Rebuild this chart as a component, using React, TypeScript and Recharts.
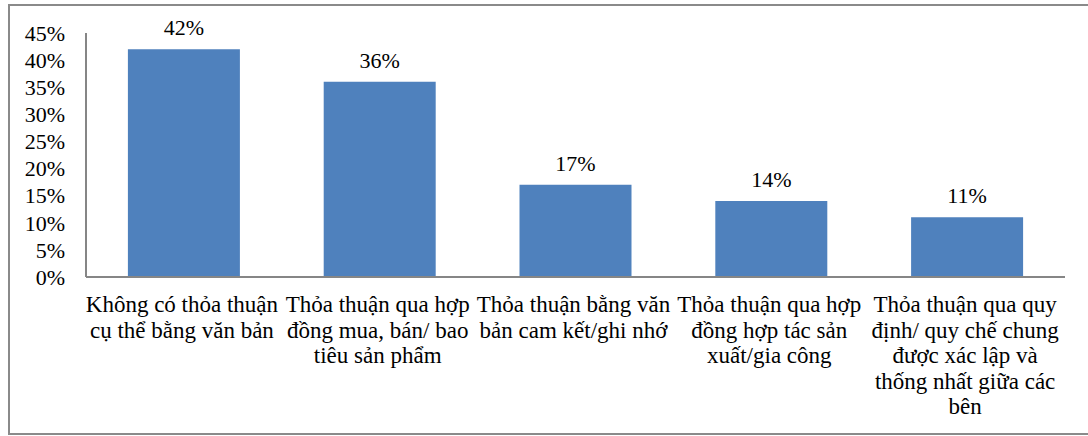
import React from 'react';
import { BarChart, Bar, XAxis, YAxis, LabelList } from 'recharts';

// category labels, already broken into lines like the original figure
const categoryLines: string[][] = [
  ['Không có thỏa thuận', 'cụ thể bằng văn bản'],
  ['Thỏa thuận qua hợp', 'đồng mua, bán/ bao', 'tiêu sản phẩm'],
  ['Thỏa thuận bằng văn', 'bản cam kết/ghi nhớ'],
  ['Thỏa thuận qua hợp', 'đồng hợp tác sản', 'xuất/gia công'],
  ['Thỏa thuận qua quy', 'định/ quy chế chung', 'được xác lập và', 'thống nhất giữa các', 'bên'],
];

const shares = [42, 36, 17, 14, 11];

const yTicks = [0, 5, 10, 15, 20, 25, 30, 35, 40, 45];

const data = categoryLines.map((lines, i) => ({
  name: lines.join('\n'),
  value: shares[i],
}));

const FONT = 'Liberation Serif';
const AXIS_GRAY = '#868686';

const CategoryTick = (props: any) => {
  const { x, y, payload } = props;
  const lines: string[] = String(payload.value).split('\n');
  return (
    <text
      x={x - 2}
      y={y + 35}
      textAnchor="middle"
      fill="#000"
      style={{ fontFamily: FONT, fontSize: 23 }}
    >
      {lines.map((line, i) => (
        <tspan key={i} x={x - 2} dy={i === 0 ? 0 : 25.6}>
          {line}
        </tspan>
      ))}
    </text>
  );
};

const ValueLabel = (props: any) => {
  const { x, y, width, value } = props;
  return (
    <text
      x={x + width / 2}
      y={y - 14}
      textAnchor="middle"
      fill="#000"
      style={{ fontFamily: FONT, fontSize: 22 }}
    >
      {`${value}%`}
    </text>
  );
};

const App: React.FC = () => {
  return (
    <div style={{ position: 'absolute', left: 0, top: 0, width: 1088, height: 436, background: '#fff', overflow: 'hidden' }}>
      <div
        style={{
          position: 'absolute',
          left: 8,
          top: 4,
          width: 1100,
          height: 431,
          boxSizing: 'border-box',
          border: '2px solid #8a8a8a',
          borderRight: 'none',
        }}
      />
      <div style={{ position: 'absolute', left: 0, top: 0, fontFamily: FONT }}>
        <BarChart
          width={1088}
          height={436}
          data={data}
          margin={{ top: 33, right: 23, bottom: 0, left: 0 }}
          barCategoryGap="21.4%"
        >
          <XAxis
            dataKey="name"
            height={159}
            axisLine={{ stroke: AXIS_GRAY, strokeWidth: 2 }}
            tickLine={false}
            tickSize={0}
            tickMargin={0}
            interval={0}
            tick={<CategoryTick />}
          />
          <YAxis
            width={86}
            domain={[0, 45]}
            ticks={yTicks}
            interval={0}
            tickFormatter={(v: number) => `${v}%`}
            axisLine={{ stroke: AXIS_GRAY, strokeWidth: 2 }}
            tickLine={false}
            tickSize={0}
            tickMargin={21}
            tick={{ fill: '#000', fontSize: 22, fontFamily: FONT }}
          />
          <Bar dataKey="value" fill="#4f81bd" isAnimationActive={false}>
            <LabelList dataKey="value" content={<ValueLabel />} />
          </Bar>
        </BarChart>
      </div>
    </div>
  );
};

export default App;
